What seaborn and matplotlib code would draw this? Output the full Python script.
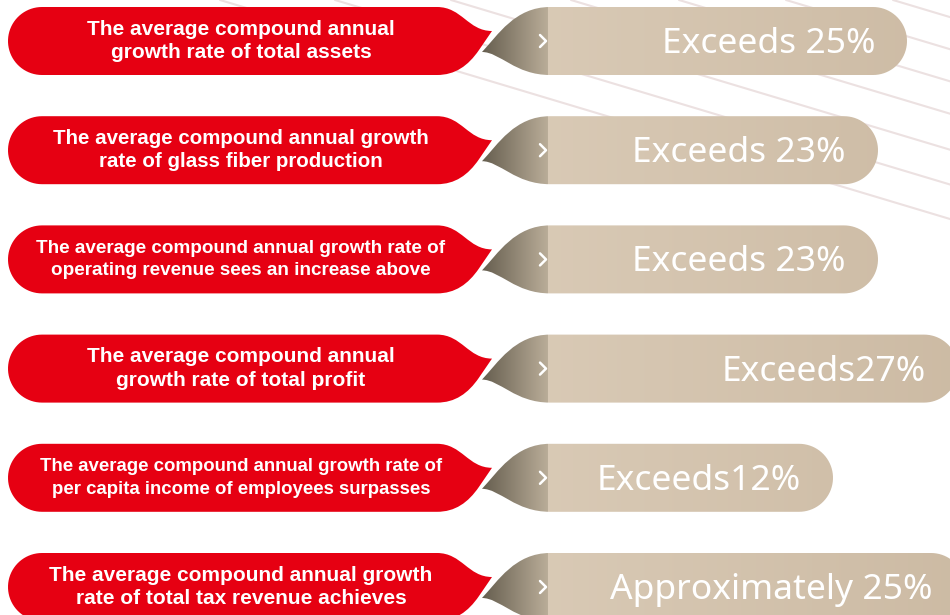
import numpy as np
import matplotlib.pyplot as plt
import seaborn as sns
from matplotlib.path import Path
from matplotlib.patches import PathPatch

# left labels (red pills) and the value shown in each beige bar
labels = [
    "The average compound annual\ngrowth rate of total assets",
    "The average compound annual growth\nrate of glass fiber production",
    "The average compound annual growth rate of\noperating revenue sees an increase above",
    "The average compound annual\ngrowth rate of total profit",
    "The average compound annual growth rate of\nper capita income of employees surpasses",
    "The average compound annual growth\nrate of total tax revenue achieves",
]
values = ["Exceeds 25%", "Exceeds 23%", "Exceeds 23%", "Exceeds27%", "Exceeds12%", "Approximately 25%"]
# right end of each beige bar (pixels)
bar_ends = [907, 878, 878, 958, 833, 965]
# label size per row (the long labels are set smaller)
label_sizes = [15, 14.8, 13.6, 15, 13.4, 15]

# decorative background stripes: x where each crosses the top edge
stripe_x = [220, 335, 451, 571, 679, 786, 893]

RED = "#e60012"
M, L, C = Path.MOVETO, Path.LINETO, Path.CURVE4


def red_path(yc, h=34, x0=8):
    top, bot = yc - h, yc + h
    verts = [(x0 + h, top), (437, top),
             (462, top), (468, yc - 10), (492, yc - 10),
             (479, yc + 9),
             (468, yc + 25), (455, bot), (437, bot),
             (x0 + h, bot)]
    codes = [M, L, C, C, C, L, C, C, C, L]
    t = np.linspace(np.pi / 2, 3 * np.pi / 2, 40)
    for a in t[1:]:
        verts.append((x0 + h + h * np.cos(a), yc + h * np.sin(a)))
        codes.append(L)
    return Path(verts, codes)


def beige_path(yc, end, h=34):
    top, bot = yc - h, yc + h
    tip = (482, yc + 11)
    verts = [tip, (498, yc - 6), (515, top), (550, top), (end - h, top)]
    codes = [M, C, C, C, L]
    t = np.linspace(-np.pi / 2, np.pi / 2, 40)
    for a in t[1:]:
        verts.append((end - h + h * np.cos(a), yc + h * np.sin(a)))
        codes.append(L)
    verts += [(550, bot), (515, bot), (500, yc + 11), tip]
    codes += [L, C, C, C]
    return Path(verts, codes)


def beige_gradient():
    xs = np.linspace(475, 975, 500)
    dark = np.array([0.40, 0.37, 0.31])
    mid = np.array([0.73, 0.68, 0.60])
    light = np.array([0.85, 0.79, 0.71])
    right = np.array([0.80, 0.73, 0.64])
    rgb = np.zeros((1, len(xs), 3))
    for i, x in enumerate(xs):
        if x < 548:
            f = np.clip((x - 482) / 66, 0, 1)
            rgb[0, i] = dark + (mid - dark) * f
        else:
            f = (x - 548) / (975 - 548)
            rgb[0, i] = light + (right - light) * f
    return rgb


sns.set_theme(style="white")
plt.rcParams['font.family'] = ['Liberation Sans', 'DejaVu Sans']

fig = plt.figure(figsize=(9.5, 6.15), dpi=100)
ax = fig.add_axes([0, 0, 1, 1])
ax.set_xlim(0, 950)
ax.set_ylim(615, 0)
ax.axis('off')

# background stripes
for x0 in stripe_x:
    xx = np.array([x0, 960])
    sns.lineplot(x=xx, y=(xx - x0) * 0.3, ax=ax, color="#ece1e1", lw=1.5, zorder=0)

grad = beige_gradient()
for i, (lab, val, end) in enumerate(zip(labels, values, bar_ends)):
    yc = 41 + 109.2 * i
    ax.add_patch(PathPatch(red_path(yc), facecolor=RED, edgecolor='none', zorder=2))
    bp = PathPatch(beige_path(yc, end), facecolor='none', edgecolor='none', zorder=2)
    ax.add_patch(bp)
    im = ax.imshow(grad, extent=[475, 975, yc + 40, yc - 40], aspect='auto', zorder=2)
    im.set_clip_path(bp)
    ax.plot([540, 546, 540], [yc - 6, yc, yc + 6], color='white', lw=1.8, zorder=3,
            solid_capstyle='round')
    ls = 1.3 if label_sizes[i] >= 14.5 else 1.42
    ax.text(241, yc, lab, ha='center', va='center', fontsize=label_sizes[i],
            weight='bold', color='white', linespacing=ls, zorder=4)
    ax.text(end - 32, yc + 3, val, ha='right', va='center', fontsize=25.5,
            family=['Noto Sans', 'DejaVu Sans'], color='white', zorder=4)

ax.set_xlim(0, 950)
ax.set_ylim(615, 0)
fig.savefig('out.png', dpi=100)
